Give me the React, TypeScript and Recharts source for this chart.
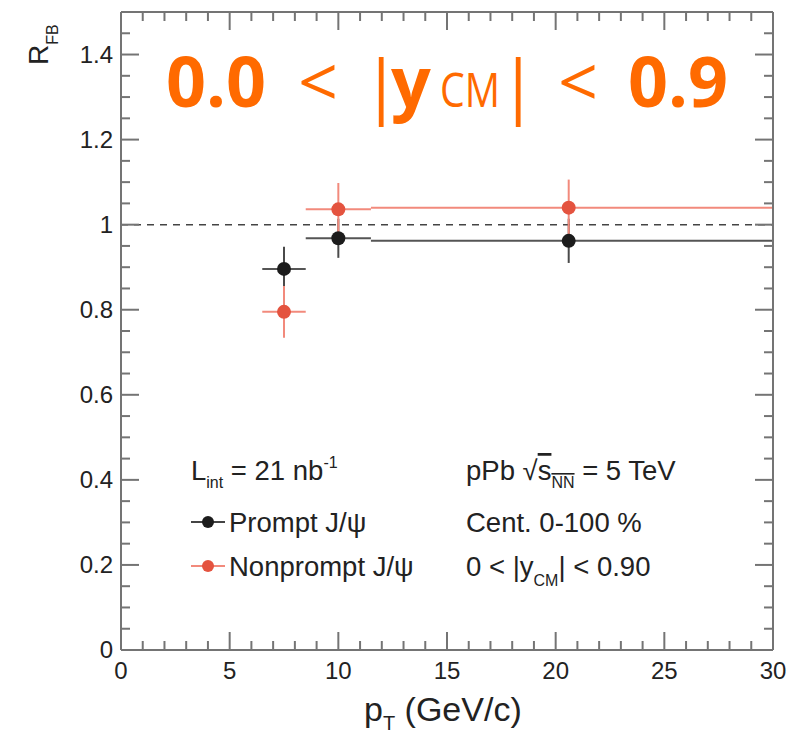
import React from 'react'
import { ScatterChart, Scatter, XAxis, YAxis, ErrorBar, ReferenceLine } from 'recharts'

// p_T bins and R_FB values
const ptCenters = [7.5, 10, 20.6]
const ptErr = [
  [1, 1],
  [1.5, 1.5],
  [9.1, 9.4],
]
const promptR = [0.896, 0.968, 0.962]
const promptErr = [0.052, 0.046, 0.052]
const nonpromptR = [0.795, 1.036, 1.04]
const nonpromptErr = [0.061, 0.062, 0.066]

const xTicks = [
  0, 1, 2, 3, 4, 5, 6, 7, 8, 9, 10, 11, 12, 13, 14, 15, 16, 17, 18, 19, 20, 21, 22, 23, 24, 25, 26,
  27, 28, 29, 30,
]
const yTicks = [
  0, 0.05, 0.1, 0.15, 0.2, 0.25, 0.3, 0.35, 0.4, 0.45, 0.5, 0.55, 0.6, 0.65, 0.7, 0.75, 0.8, 0.85,
  0.9, 0.95, 1, 1.05, 1.1, 1.15, 1.2, 1.25, 1.3, 1.35, 1.4, 1.45, 1.5,
]

const prompt = ptCenters.map((x, i) => ({ x, y: promptR[i], ey: promptErr[i], ex: ptErr[i] }))
const nonprompt = ptCenters.map((x, i) => ({ x, y: nonpromptR[i], ey: nonpromptErr[i], ex: ptErr[i] }))

const AXIS = '#747474'
const BLACK = '#1c1c1c'
const RED = '#e4533f'
const RED_LINE = '#f28a7c'
const ORANGE = '#ff6a00'
const FONT = '"Liberation Sans", Arial, sans-serif'
const LEG = 27.5

const isMajorX = (v: number) => Math.round(v) % 5 === 0
const isMajorY = (v: number) => Math.round(v * 100) % 20 === 0

function BottomTick({ x, y, payload }: any) {
  const major = isMajorX(payload.value)
  return (
    <g>
      <line x1={x} x2={x} y1={y} y2={y - (major ? 18 : 9)} stroke={AXIS} strokeWidth={2} />
      {major && (
        <text x={x} y={y + 29} textAnchor="middle" fontSize={24} fill="#222" fontFamily={FONT}>
          {payload.value}
        </text>
      )}
    </g>
  )
}

function TopTick({ x, y, payload }: any) {
  const major = isMajorX(payload.value)
  return <line x1={x} x2={x} y1={y} y2={y + (major ? 18 : 9)} stroke={AXIS} strokeWidth={2} />
}

function LeftTick({ x, y, payload }: any) {
  const major = isMajorY(payload.value)
  return (
    <g>
      <line x1={x} x2={x + (major ? 18 : 9)} y1={y} y2={y} stroke={AXIS} strokeWidth={2} />
      {major && (
        <text x={x - 8} y={y + 8} textAnchor="end" fontSize={24} fill="#222" fontFamily={FONT}>
          {String(Math.round(payload.value * 10) / 10)}
        </text>
      )}
    </g>
  )
}

function RightTick({ x, y, payload }: any) {
  const major = isMajorY(payload.value)
  return <line x1={x} x2={x - (major ? 18 : 9)} y1={y} y2={y} stroke={AXIS} strokeWidth={2} />
}

const dot = (fill: string) => (p: any) => <circle cx={p.cx} cy={p.cy} r={7} fill={fill} />
const noDot = () => <g />

export default function App() {
  return (
    <div style={{ position: 'absolute', left: 0, top: 0, width: 807, height: 737, background: '#fff' }}>
      <ScatterChart width={807} height={737} margin={{ top: 11, right: 33, bottom: 47, left: 61 }}>
        <XAxis
          xAxisId="b"
          dataKey="x"
          type="number"
          domain={[0, 30]}
          ticks={xTicks}
          interval={0}
          height={40}
          tickSize={0}
          tickMargin={0}
          tickLine={false}
          tick={<BottomTick />}
          axisLine={{ stroke: AXIS, strokeWidth: 2 }}
        />
        <XAxis
          xAxisId="t"
          orientation="top"
          dataKey="x"
          type="number"
          domain={[0, 30]}
          ticks={xTicks}
          interval={0}
          height={1}
          tickSize={0}
          tickMargin={0}
          tickLine={false}
          tick={<TopTick />}
          axisLine={{ stroke: AXIS, strokeWidth: 2 }}
        />
        <YAxis
          yAxisId="l"
          dataKey="y"
          type="number"
          domain={[0, 1.5]}
          ticks={yTicks}
          interval={0}
          width={60}
          tickSize={0}
          tickMargin={0}
          tickLine={false}
          tick={<LeftTick />}
          axisLine={{ stroke: AXIS, strokeWidth: 2 }}
        />
        <YAxis
          yAxisId="r"
          orientation="right"
          dataKey="y"
          type="number"
          domain={[0, 1.5]}
          ticks={yTicks}
          interval={0}
          width={1}
          tickSize={0}
          tickMargin={0}
          tickLine={false}
          tick={<RightTick />}
          axisLine={{ stroke: AXIS, strokeWidth: 2 }}
        />
        <ReferenceLine xAxisId="b" yAxisId="l" y={1} stroke="#444" strokeWidth={1.5} strokeDasharray="7 6" />
        {/* invisible series so the mirrored top/right axes get their ticks */}
        <Scatter xAxisId="t" yAxisId="r" data={prompt} shape={noDot} isAnimationActive={false} />
        <Scatter xAxisId="b" yAxisId="l" data={prompt} shape={dot(BLACK)} isAnimationActive={false}>
          <ErrorBar dataKey="ey" direction="y" width={0} stroke="#4a4a4a" strokeWidth={2} />
          <ErrorBar dataKey="ex" direction="x" width={0} stroke="#555" strokeWidth={2} />
        </Scatter>
        <Scatter xAxisId="b" yAxisId="l" data={nonprompt} shape={dot(RED)} isAnimationActive={false}>
          <ErrorBar dataKey="ey" direction="y" width={0} stroke={RED_LINE} strokeWidth={2} />
          <ErrorBar dataKey="ex" direction="x" width={0} stroke={RED_LINE} strokeWidth={2} />
        </Scatter>
      </ScatterChart>

      <svg
        width={807}
        height={737}
        style={{ position: 'absolute', left: 0, top: 0, pointerEvents: 'none' }}
        fontFamily={FONT}
      >
        {/* axis titles */}
        <g transform="translate(48,65) rotate(-90)">
          <text x={0} y={0} fontSize={28} fill="#222">
            R
            <tspan fontSize={16} dy={10}>
              FB
            </tspan>
          </text>
        </g>
        <text x={364} y={721} fontSize={34} fill="#222">
          p
          <tspan fontSize={20} dy={9}>
            T
          </tspan>
          <tspan dy={-9}> (GeV/c)</tspan>
        </text>

        {/* legend */}
        <text x={191} y={480} fontSize={LEG} fill="#222">
          L
          <tspan fontSize={16} dy={8}>
            int
          </tspan>
          <tspan dy={-8}> = 21 nb</tspan>
          <tspan fontSize={16} dy={-12}>
            -1
          </tspan>
        </text>
        <line x1={191} x2={225} y1={522} y2={522} stroke="#444" strokeWidth={2} />
        <circle cx={208} cy={522} r={6} fill={BLACK} />
        <text x={229} y={532} fontSize={LEG} fill="#222">
          Prompt J/ψ
        </text>
        <line x1={191} x2={225} y1={566} y2={566} stroke={RED_LINE} strokeWidth={2} />
        <circle cx={208} cy={566} r={6} fill={RED} />
        <text x={229} y={576} fontSize={LEG} fill="#222">
          Nonprompt J/ψ
        </text>

        <text x={466} y={480} fontSize={LEG} fill="#222">
          pPb √
          <tspan textDecoration="overline">
            s
            <tspan fontSize={16} dy={8}>
              NN
            </tspan>
          </tspan>
          <tspan dy={-8}> = 5 TeV</tspan>
        </text>
        <text x={466} y={532} fontSize={LEG} fill="#222">
          Cent. 0-100 %
        </text>
        <text x={466} y={576} fontSize={LEG} fill="#222">
          0 &lt; |y
          <tspan fontSize={16} dy={10}>
            CM
          </tspan>
          <tspan dy={-10}>| &lt; 0.90</tspan>
        </text>

        {/* big rapidity label */}
        <text y={107} fill={ORANGE} fontFamily='"Open Sans", sans-serif' fontSize={70}>
          <tspan x={166} fontWeight={700}>0.0</tspan>
          <tspan x={298} fontWeight={400}>&lt;</tspan>
          <tspan x={362} dy={3} fontWeight={400}>|</tspan>
          <tspan x={391} dy={-3} fontWeight={700}>y</tspan>
          <tspan x={440} fontWeight={400} fontSize={48} textLength={60} lengthAdjust="spacingAndGlyphs">
            CM
          </tspan>
          <tspan x={499} dy={3} fontWeight={400}>|</tspan>
          <tspan x={558} dy={-3} fontWeight={400}>&lt;</tspan>
          <tspan x={628} fontWeight={700}>0.9</tspan>
        </text>
      </svg>
    </div>
  )
}
